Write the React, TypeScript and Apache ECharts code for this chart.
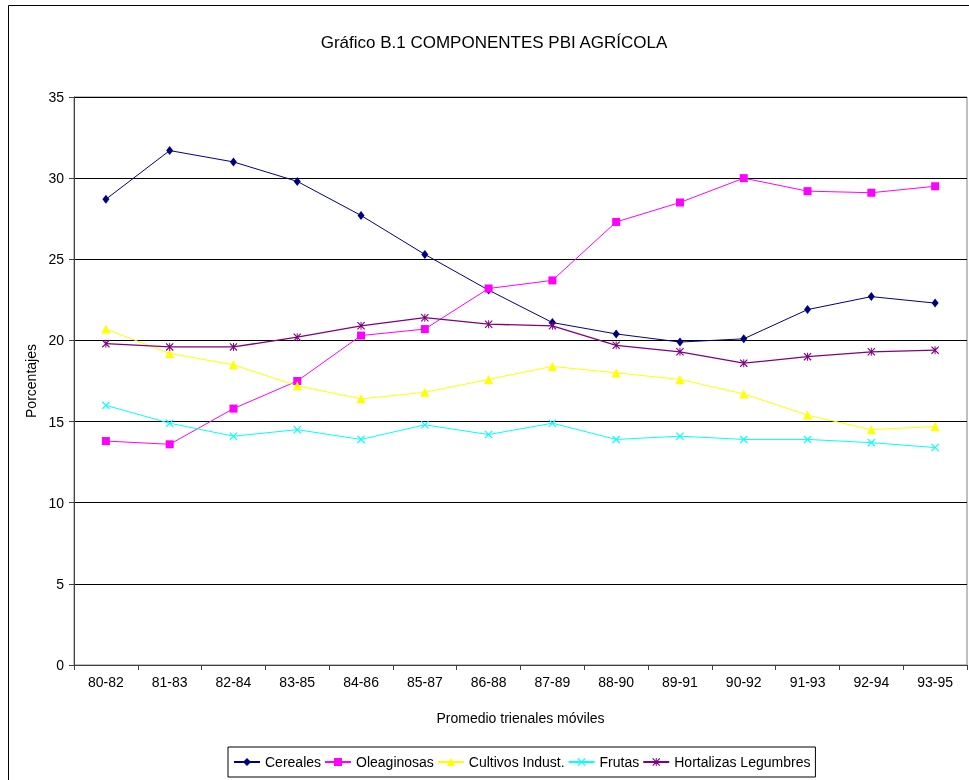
import React, { useEffect, useRef } from "react";
import * as echarts from "echarts";

const categories = ["80-82", "81-83", "82-84", "83-85", "84-86", "85-87", "86-88", "87-89", "88-90", "89-91", "90-92", "91-93", "92-94", "93-95"];
const cereales = [28.7, 31.7, 31.0, 29.8, 27.7, 25.3, 23.1, 21.1, 20.4, 19.9, 20.1, 21.9, 22.7, 22.3];
const oleaginosas = [13.8, 13.6, 15.8, 17.5, 20.3, 20.7, 23.2, 23.7, 27.3, 28.5, 30.0, 29.2, 29.1, 29.5];
const cultivos = [20.7, 19.2, 18.5, 17.2, 16.4, 16.8, 17.6, 18.4, 18.0, 17.6, 16.7, 15.4, 14.5, 14.7];
const frutas = [16.0, 14.9, 14.1, 14.5, 13.9, 14.8, 14.2, 14.9, 13.9, 14.1, 13.9, 13.9, 13.7, 13.4];
const hortalizas = [19.8, 19.6, 19.6, 20.2, 20.9, 21.4, 21.0, 20.9, 19.7, 19.3, 18.6, 19.0, 19.3, 19.4];
const seriesNames = ["Cereales", "Oleaginosas", "Cultivos Indust.", "Frutas", "Hortalizas Legumbres"];
const titleText = "Gráfico B.1 COMPONENTES PBI AGRÍCOLA";
const yName = "Porcentajes";
const xName = "Promedio trienales móviles";

const FONT = "'Liberation Sans', Arial, Helvetica, sans-serif";
const X_PATH = "path://M0,1L1,0L5,4L9,0L10,1L6,5L10,9L9,10L5,6L1,10L0,9L4,5Z";
const STAR_PATH = "path://M0,1L1,0L5,4L9,0L10,1L6,5L10,9L9,10L5,6L1,10L0,9L4,5Z M4.4,0L5.6,0L5.6,10L4.4,10Z";

export default function App() {
  const ref = useRef<HTMLDivElement>(null);
  useEffect(() => {
    if (!ref.current) return;
    const chart = echarts.init(ref.current, null, { renderer: "svg" });
    const mk = (name: string, data: number[], color: string, symbol: string, size: number | number[], width = 1) => ({
      name,
      type: "line",
      data,
      symbol,
      symbolSize: size,
      showAllSymbol: true,
      lineStyle: { color, width },
      itemStyle: { color, borderWidth: 0 },
      emphasis: { disabled: true },
    });
    chart.setOption({
      animation: false,
      textStyle: { fontFamily: FONT },
      graphic: [
        {
          type: "rect",
          shape: { x: 8.5, y: 5.5, width: 1200, height: 1200 },
          style: { fill: "none", stroke: "#000", lineWidth: 1 },
          silent: true,
        },
        {
          type: "text",
          x: 494,
          y: 42,
          style: { text: titleText, fontSize: 17, fontFamily: FONT, fill: "#000", align: "center", verticalAlign: "middle" },
        },
      ],
      grid: { left: 74, right: 2, top: 97, bottom: 115, show: true, borderColor: "#808080", borderWidth: 1, containLabel: false },
      legend: {
        left: 228,
        top: 747,
        data: seriesNames,
        padding: [8, 5, 8, 5],
        itemGap: 3,
        itemWidth: 26,
        itemHeight: 10,
        borderColor: "#000",
        borderWidth: 1,
        textStyle: { fontSize: 14, fontFamily: FONT, color: "#000" },
      },
      xAxis: {
        type: "category",
        data: categories,
        boundaryGap: true,
        name: xName,
        nameLocation: "middle",
        nameGap: 46,
        nameTextStyle: { fontSize: 14, fontFamily: FONT, color: "#000" },
        axisLine: { show: true, lineStyle: { color: "#404040", width: 1 } },
        axisTick: { show: true, length: 5, lineStyle: { color: "#404040" } },
        axisLabel: { fontSize: 14, fontFamily: FONT, color: "#000", margin: 10, interval: 0 },
        splitLine: { show: false },
      },
      yAxis: {
        type: "value",
        min: 0,
        max: 35,
        interval: 5,
        name: yName,
        nameLocation: "middle",
        nameGap: 36,
        nameTextStyle: { fontSize: 14, fontFamily: FONT, color: "#000" },
        axisLine: { show: true, lineStyle: { color: "#404040", width: 1 } },
        axisTick: { show: true, length: 5, lineStyle: { color: "#404040" } },
        axisLabel: { fontSize: 14, fontFamily: FONT, color: "#000", margin: 10 },
        splitLine: { show: true, lineStyle: { color: "#000", width: 1 } },
      },
      series: [
        mk(seriesNames[0], cereales, "#000080", "diamond", [7, 9]),
        mk(seriesNames[1], oleaginosas, "#FF00FF", "rect", 8),
        mk(seriesNames[2], cultivos, "#FFFF00", "triangle", 9),
        mk(seriesNames[3], frutas, "#00FFFF", X_PATH, 8),
        mk(seriesNames[4], hortalizas, "#800080", STAR_PATH, 8, 1.3),
      ],
    });
    return () => chart.dispose();
  }, []);
  return <div ref={ref} style={{ position: "fixed", left: 0, top: 0, width: 969, height: 780 }} />;
}
